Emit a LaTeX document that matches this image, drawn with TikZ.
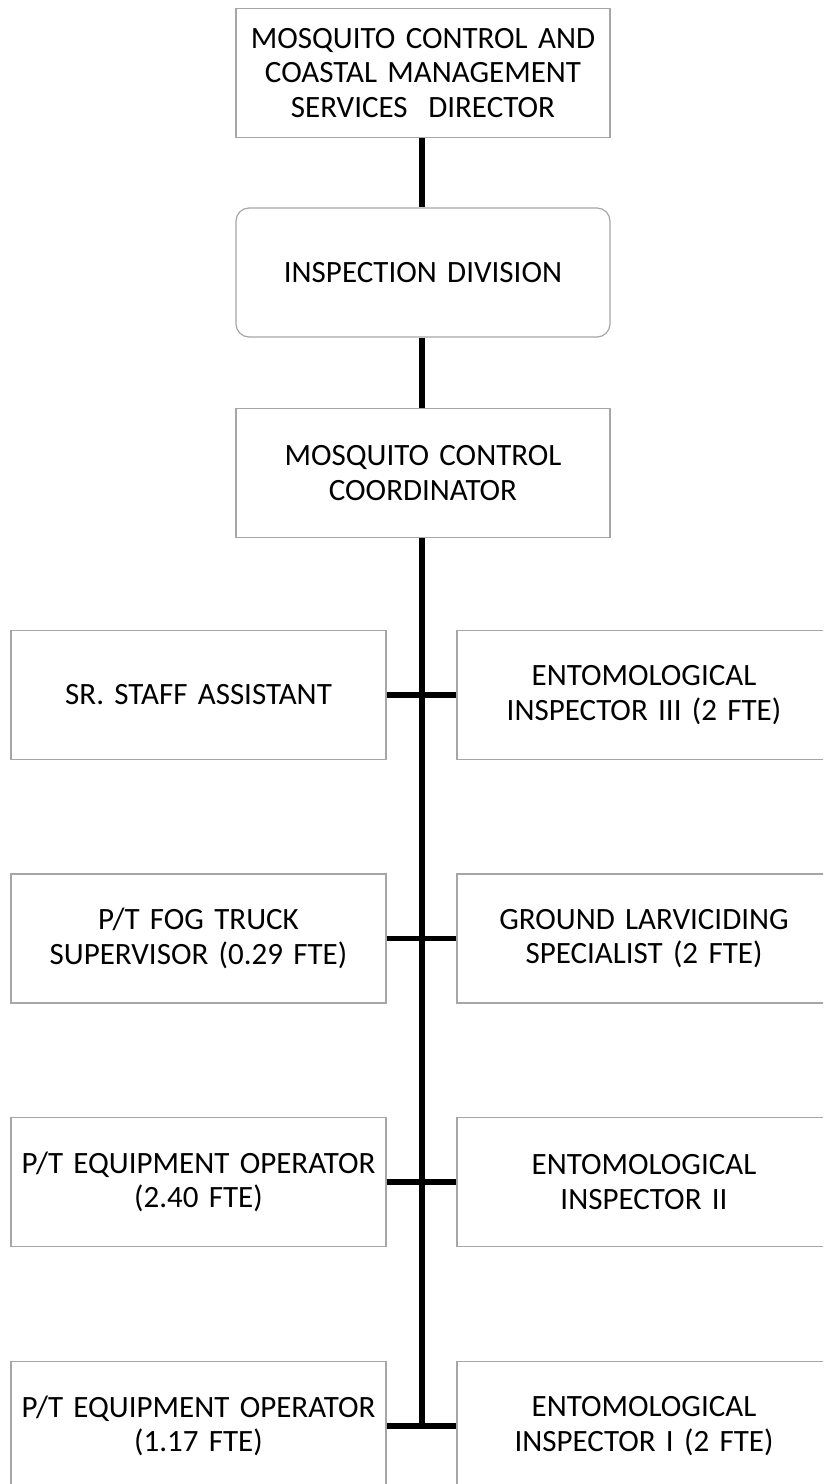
\documentclass[tikz,border=0pt]{standalone}
\usepackage{fontspec}
\setmainfont{Carlito}
\definecolor{boxline}{RGB}{166,166,166}
\begin{document}
\begin{tikzpicture}[x=1bp,y=-1bp,
  unit/.style={draw=boxline, line width=1.2bp, fill=white, inner sep=0pt,
    align=center, font=\fontsize{31bp}{34.5bp}\selectfont,
    text width=372bp, minimum width=374bp, minimum height=129bp},
  division/.style={unit, rounded corners=13bp},
  link/.style={line width=6bp, black},
  branch/.style={line width=5.5bp, black}]
\useasboundingbox (0,0) rectangle (823,1484);
\clip (0,0) rectangle (823,1484);

% chain of command
\node[unit]     (dir)  at (423,73)    {MOSQUITO CONTROL AND\\COASTAL MANAGEMENT\\SERVICES\ \ DIRECTOR};
\node[division] (div)  at (423,272.5) {INSPECTION DIVISION};
\node[unit]     (coor) at (423,473)   {MOSQUITO CONTROL\\COORDINATOR};

% staff reporting to the coordinator
\node[unit, minimum width=375bp] (l1) at (198.5,695)  {SR. STAFF ASSISTANT};
\node[unit]                      (r1) at (644,695)    {ENTOMOLOGICAL\\INSPECTOR III (2 FTE)};
\node[unit, minimum width=375bp] (l2) at (198.5,938.5){P/T FOG TRUCK\\SUPERVISOR (0.29 FTE)};
\node[unit]                      (r2) at (644,938.5)  {GROUND LARVICIDING\\SPECIALIST (2 FTE)};
\node[unit, minimum width=375bp] (l3) at (198.5,1182) {P/T EQUIPMENT OPERATOR\\(2.40 FTE)};
\node[unit]                      (r3) at (644,1182)   {ENTOMOLOGICAL\\INSPECTOR II};
\node[unit, minimum width=375bp] (l4) at (198.5,1426) {P/T EQUIPMENT OPERATOR\\(1.17 FTE)};
\node[unit]                      (r4) at (644,1426)   {ENTOMOLOGICAL\\INSPECTOR I (2 FTE)};

% connectors
\coordinate (spine) at (422,0);
\draw[link] (spine |- dir.south)  -- (spine |- div.north);
\draw[link] (spine |- div.south)  -- (spine |- coor.north);
\draw[link] (spine |- coor.south) -- (spine |- l4.east);
\foreach \k in {1,2,3,4}{
  \draw[branch] (l\k.east) -- (r\k.west);
}
\end{tikzpicture}
\end{document}
